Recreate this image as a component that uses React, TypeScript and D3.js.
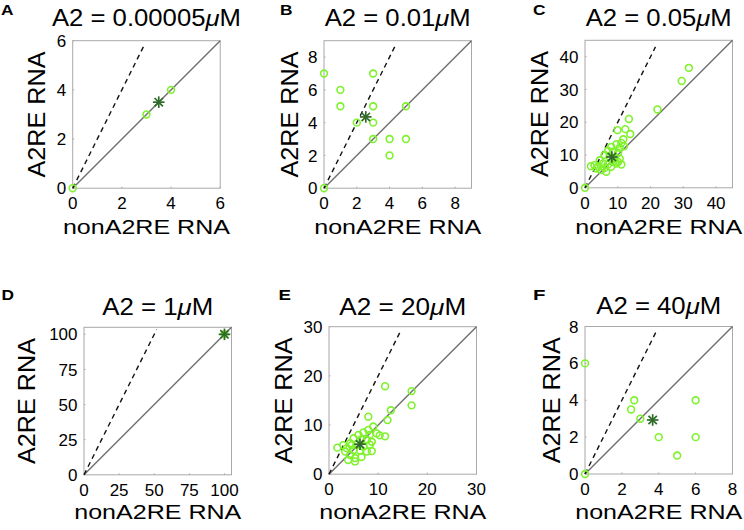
import React from "react";
import * as d3 from "d3";

// ---------- data ----------
const panelLetters = ["A", "B", "C", "D", "E", "F"];
const concentrations = ["0.00005", "0.01", "0.05", "1", "20", "40"];
const axisMax = [6, 9, 45, 105, 30, 8];
const tickValues = [
  [0, 2, 4, 6],
  [0, 2, 4, 6, 8],
  [0, 10, 20, 30, 40],
  [0, 25, 50, 75, 100],
  [0, 10, 20, 30],
  [0, 2, 4, 6, 8],
];
// y value where the dashed y = 2x reference line stops
const dashedEnd = [5.76, 8.84, 43, 103.4, 29.1, 7.7];

const pointsA: [number, number][] = [[0, 0], [3, 3], [4, 4]];
const pointsB: [number, number][] = [
  [0, 0], [0, 7], [1, 6], [1, 5], [2, 4], [3, 7], [3, 5], [3, 4], [3, 3],
  [4, 3], [4, 2], [5, 5], [5, 3],
];
const pointsC: [number, number][] = [
  [31.7, 36.6], [29.5, 32.6], [22.1, 23.9], [13.4, 21.0], [9.9, 17.6], [12.3, 17.9],
  [13.8, 16.4], [11.7, 14.8], [11.1, 13.7], [9.6, 13.3], [8.0, 12.5], [10.6, 12.2],
  [11.9, 12.7], [7.0, 11.3], [8.6, 11.0], [10.1, 10.7], [6.0, 10.0], [7.5, 9.5],
  [9.1, 9.2], [10.6, 8.9], [4.5, 8.4], [2.9, 6.9], [5.5, 7.4], [7.0, 7.1],
  [8.6, 7.9], [10.1, 7.9], [4.0, 6.4], [6.0, 6.1], [8.0, 6.4], [9.6, 7.4],
  [5.0, 5.4], [6.5, 4.9], [3.5, 5.9], [11.1, 7.1], [1.8, 6.6], [0, 0],
];
const pointsD: [number, number][] = [[100, 100]];
const pointsE: [number, number][] = [
  [11.4, 17.9], [16.8, 16.9], [16.8, 14.0], [12.6, 13.0], [11.9, 11.0], [8.0, 11.7],
  [11.4, 7.7], [1.7, 5.4], [9.0, 9.7], [8.0, 9.0], [7.0, 8.5], [6.0, 8.0],
  [8.3, 8.0], [9.7, 8.3], [5.0, 7.3], [6.6, 7.1], [7.7, 7.0], [8.7, 6.6],
  [4.3, 6.3], [5.6, 6.0], [7.0, 5.6], [8.3, 6.0], [3.6, 5.3], [5.0, 4.9],
  [6.3, 4.8], [7.7, 4.6], [8.7, 4.7], [3.3, 4.6], [4.3, 3.9], [5.3, 3.3],
  [6.6, 3.5], [3.9, 2.9], [5.3, 2.6], [2.9, 5.9], [4.6, 5.9], [10.3, 7.9],
];
const pointsF: [number, number][] = [
  [0, 0], [0, 6], [2.67, 4], [2.5, 3.5], [3, 3], [4, 2], [5, 1], [6, 4], [6, 2],
];
const cellPoints = [pointsA, pointsB, pointsC, pointsD, pointsE, pointsF];
const meanPoints: [number, number][] = [
  [3.5, 3.5], [2.55, 4.35], [8.2, 9.4], [100, 100], [6.3, 6.1], [3.67, 2.93],
];

const xLabel = "nonA2RE RNA";
const yLabel = "A2RE RNA";

// ---------- layout ----------
const BOX = 147.5;
const layout = [
  { left: 72.7, top: 40.7, letterX: 1, letterY: 15, titleY: 26, titleW: 189, ylabX: 45, xlabY: 233.8 },
  { left: 324, top: 40.7, letterX: 280, letterY: 15, titleY: 26, titleW: 146, ylabX: 298.3, xlabY: 233.8 },
  { left: 585, top: 40.3, letterX: 533, letterY: 15, titleY: 26, titleW: 146, ylabX: 548.3, xlabY: 233.8 },
  { left: 84, top: 327.3, letterX: 1.5, letterY: 300, titleY: 315, titleW: 111, ylabX: 35, xlabY: 519 },
  { left: 329, top: 326.7, letterX: 278.5, letterY: 300, titleY: 315, titleW: 127, ylabX: 291.7, xlabY: 519 },
  { left: 585, top: 326.5, letterX: 533, letterY: 300, titleY: 314, titleW: 125, ylabX: 560, xlabY: 519 },
];

const FONT = "'Liberation Sans', Arial, Helvetica, sans-serif";
const CIRCLE = "#7ef22a";
const STAR = "#2f6a2a";
const BOXC = "#a8a8a8";

function Panel({ i }: { i: number }) {
  const L = layout[i];
  const max = axisMax[i];
  const x = d3.scaleLinear().domain([0, max]).range([L.left, L.left + BOX]);
  const y = d3.scaleLinear().domain([0, max]).range([L.top + BOX, L.top]);
  const line = d3
    .line<[number, number]>()
    .x((d) => x(d[0]))
    .y((d) => y(d[1]));
  const diag = line([[0, 0], [max, max]]) as string;
  const dash = line([[0, 0], [dashedEnd[i] / 2, dashedEnd[i]]]) as string;
  const ticks = tickValues[i];
  const cx = L.left + BOX / 2;
  const cy = L.top + BOX / 2;
  const [mx, my] = meanPoints[i];
  const s = 5.8;
  const sd = s * 0.72;
  return (
    <g>
      <text
        x={L.letterX}
        y={L.letterY}
        fontFamily={FONT}
        fontWeight="bold"
        fontSize={15}
        textLength={12.5}
        lengthAdjust="spacingAndGlyphs"
      >
        {panelLetters[i]}
      </text>
      <text
        x={cx}
        y={L.titleY}
        textAnchor="middle"
        fontFamily={FONT}
        fontSize={23}
        textLength={L.titleW}
        lengthAdjust="spacingAndGlyphs"
      >
        {"A2 = " + concentrations[i]}
        <tspan fontStyle="italic">μ</tspan>M
      </text>
      <rect x={L.left} y={L.top} width={BOX} height={BOX} fill="white" stroke={BOXC} strokeWidth={1} />
      {ticks.map((t) => (
        <g key={t}>
          <line x1={x(t)} x2={x(t)} y1={L.top + BOX} y2={L.top + BOX - 1.5} stroke={BOXC} />
          <line x1={L.left} x2={L.left + 1.5} y1={y(t)} y2={y(t)} stroke={BOXC} />
          <text
            x={x(t)}
            y={L.top + BOX + 21}
            textAnchor="middle"
            fontFamily={FONT}
            fontSize={17}
          >
            {t}
          </text>
          <text
            x={L.left - 6.5}
            y={y(t)}
            dy="0.36em"
            textAnchor="end"
            fontFamily={FONT}
            fontSize={17}
          >
            {t}
          </text>
        </g>
      ))}
      <path d={diag} stroke="#6f6f6f" strokeWidth={1.4} fill="none" />
      <path d={dash} stroke="#111" strokeWidth={1.4} strokeDasharray="5,4" fill="none" />
      {cellPoints[i].map((p, k) => (
        <circle key={k} cx={x(p[0])} cy={y(p[1])} r={3.4} fill="none" stroke={CIRCLE} strokeWidth={1.6} />
      ))}
      <g stroke={STAR} strokeWidth={1.7}>
        <line x1={x(mx) - s} x2={x(mx) + s} y1={y(my)} y2={y(my)} />
        <line x1={x(mx)} x2={x(mx)} y1={y(my) - s} y2={y(my) + s} />
        <line x1={x(mx) - sd} x2={x(mx) + sd} y1={y(my) - sd} y2={y(my) + sd} />
        <line x1={x(mx) - sd} x2={x(mx) + sd} y1={y(my) + sd} y2={y(my) - sd} />
      </g>
      <text
        x={cx}
        y={L.xlabY}
        textAnchor="middle"
        fontFamily={FONT}
        fontSize={21}
        textLength={167}
        lengthAdjust="spacingAndGlyphs"
      >
        {xLabel}
      </text>
      <text
        transform={`translate(${L.ylabX},${cy}) rotate(-90)`}
        textAnchor="middle"
        fontFamily={FONT}
        fontSize={24}
        textLength={126}
        lengthAdjust="spacingAndGlyphs"
      >
        {yLabel}
      </text>
    </g>
  );
}

export default function App() {
  return (
    <svg
      width={744}
      height={530}
      viewBox="0 0 744 530"
      style={{ position: "absolute", left: 0, top: 0, background: "white" }}
    >
      <rect width={744} height={530} fill="white" />
      {panelLetters.map((_, i) => (
        <Panel key={i} i={i} />
      ))}
    </svg>
  );
}
